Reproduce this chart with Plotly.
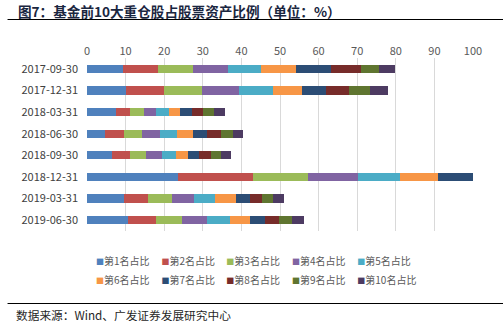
import plotly.graph_objects as go

dates = ["2017-09-30", "2017-12-31", "2018-03-31", "2018-06-30",
         "2018-09-30", "2018-12-31", "2019-03-31", "2019-06-30"]

names = ["第1名占比", "第2名占比", "第3名占比", "第4名占比", "第5名占比",
         "第6名占比", "第7名占比", "第8名占比", "第9名占比", "第10名占比"]

rank1 = [9.2, 10.2, 7.5, 4.7, 6.4, 23.7, 9.5, 10.7]
rank2 = [9.1, 9.8, 3.6, 4.8, 4.7, 19.2, 6.4, 7.3]
rank3 = [9.2, 9.7, 3.6, 4.7, 4.3, 14.4, 6.1, 6.7]
rank4 = [8.9, 9.8, 3.3, 4.6, 3.9, 12.8, 5.6, 6.3]
rank5 = [8.8, 8.8, 3.2, 4.4, 3.7, 10.9, 5.6, 6.0]
rank6 = [9.0, 7.3, 3.0, 4.3, 3.1, 10.0, 5.4, 5.2]
rank7 = [8.9, 6.3, 3.0, 3.6, 3.0, 9.0, 3.5, 3.9]
rank8 = [7.8, 6.1, 2.8, 3.5, 2.9, 0.0, 3.3, 3.6]
rank9 = [4.8, 5.2, 2.8, 3.2, 2.8, 0.0, 2.8, 3.5]
rank10 = [4.1, 4.9, 3.0, 2.5, 2.6, 0.0, 2.8, 3.0]

series = [rank1, rank2, rank3, rank4, rank5, rank6, rank7, rank8, rank9, rank10]
colors = ["#4F81BD", "#C0504D", "#9BBB59", "#8064A2", "#4BACC6",
          "#F79646", "#2C4D75", "#772C2A", "#5F7530", "#4D3B62"]

x_ticks = [0, 10, 20, 30, 40, 50, 60, 70, 80, 90, 100]

FONT = "Noto Sans CJK SC, Liberation Sans, sans-serif"

# plot area geometry (px)
PL, PR, PT, PB = 86.5, 472.7, 58.0, 231.0
PW, PH = PR - PL, PB - PT

fig = go.Figure()
for nm, vals, c in zip(names, series, colors):
    fig.add_trace(go.Bar(y=dates, x=vals, orientation="h", name=nm,
                         marker=dict(color=c, line=dict(width=0)),
                         showlegend=False, legendgroup=nm))

# legend: 5 columns x 2 rows, one small legend per column
col_left = [96.3, 161.7, 226.7, 292.3, 357.7]   # left edge of colour square
for i, (nm, c) in enumerate(zip(names, colors)):
    col = i % 5
    lg = "legend" if col == 0 else f"legend{col + 1}"
    fig.add_trace(go.Scatter(
        x=[None], y=[None], mode="markers",
        name=f'<span style="color:{c};font-size:8px">■</span>{nm}',
        marker=dict(symbol="square", size=7, color="rgba(0,0,0,0)"),
        legendgroup=nm, showlegend=True, legend=lg))

legend_common = dict(orientation="v", xanchor="left", yanchor="top",
                     font=dict(family=FONT, size=10, color="#595959"),
                     itemwidth=30, bgcolor="rgba(0,0,0,0)", borderwidth=0,
                     tracegroupgap=0)
legends = {}
for col in range(5):
    key = "legend" if col == 0 else f"legend{col + 1}"
    lx = (col_left[col] - 40.8 - PL) / PW
    legends[key] = dict(legend_common, x=lx, y=-(246.5 - PB) / PH)

fig.update_layout(
    width=503, height=328,
    margin=dict(l=PL, r=503 - PR, t=PT, b=328 - PB),
    barmode="stack", bargap=0.615,
    plot_bgcolor="white", paper_bgcolor="white",
    font=dict(family=FONT, size=11, color="#595959"),
    xaxis=dict(side="top", range=[0, 100], tickvals=x_ticks,
               showgrid=True, gridcolor="#d9d9d9", gridwidth=1,
               zeroline=False, showline=False, ticks="",
               tickfont=dict(size=11, color="#595959"), ticklabelstandoff=0),
    yaxis=dict(autorange="reversed", type="category", showgrid=False,
               zeroline=False, showline=False, ticks="",
               tickfont=dict(size=11, color="#404040"), ticklabelstandoff=8),
    showlegend=True,
    **legends,
)

fig.add_annotation(text="<b>图7：基金前10大重仓股占股票资产比例（单位：%）</b>",
                   xref="paper", yref="paper", x=(15 - PL) / PW, xanchor="left",
                   y=1 + (PT - 11) / PH, yanchor="middle", showarrow=False,
                   font=dict(family=FONT, size=13.6, color="#1A2640"))
fig.add_annotation(text="数据来源：Wind、广发证券发展研究中心",
                   xref="paper", yref="paper", x=(13 - PL) / PW, xanchor="left",
                   y=-(314.5 - PB) / PH, yanchor="middle", showarrow=False,
                   font=dict(family=FONT, size=11.7, color="#262626"))
fig.add_shape(type="line", xref="paper", yref="paper",
              x0=(7 - PL) / PW, x1=(503 - PL) / PW,
              y0=1 + (PT - 19.5) / PH, y1=1 + (PT - 19.5) / PH,
              line=dict(color="#000000", width=1.2))
fig.add_shape(type="line", xref="paper", yref="paper",
              x0=(7 - PL) / PW, x1=(503 - PL) / PW,
              y0=-(303.5 - PB) / PH, y1=-(303.5 - PB) / PH,
              line=dict(color="#000000", width=1.2))

fig.write_html("out.html")
